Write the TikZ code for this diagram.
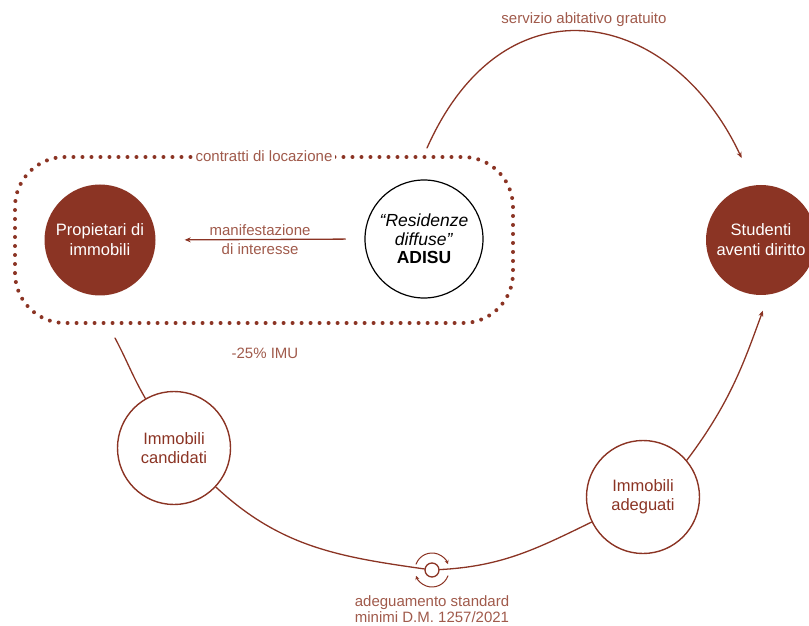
\documentclass[tikz,border=0pt]{standalone}
\usepackage{fontspec}
\setmainfont{Liberation Sans}
\usetikzlibrary{arrows.meta}
\definecolor{rosso}{RGB}{139,52,36}
\definecolor{rossochiaro}{RGB}{160,90,75}
\begin{document}
\begin{tikzpicture}[x=1pt,y=1pt,line join=round,line cap=round,>={Stealth[length=6pt,width=5pt]},
	pieno/.style={circle,fill=rosso,text=white,minimum size=111pt,inner sep=0pt,align=center,font=\fontsize{16.5}{20}\selectfont},
	vuoto/.style={circle,draw=rosso,line width=1.4pt,text=rosso,minimum size=113pt,inner sep=0pt,align=center,font=\fontsize{16.5}{19}\selectfont},
	etich/.style={text=rossochiaro,font=\fontsize{15}{17.5}\selectfont},
	freccia/.style={draw=rosso,line width=1.3pt},
	puntini/.style={draw=rosso,line width=4pt,dash pattern=on 0pt off 9pt,rounded corners=50pt}]
	\useasboundingbox (0,0) rectangle (809,625);
	\path (427,477) coordinate (s1)
		(115,287) coordinate (c1);
	\node[pieno] (P) at (100,385) {Propietari di\\immobili};
	\node[pieno,minimum size=110pt] (S) at (761,385) {Studenti\\aventi diritto};
	\node[circle,draw,line width=1.2pt,minimum size=118pt,inner sep=0pt,align=center,font=\fontsize{17.5}{18.5}\selectfont] (A) at (424,386) {\textit{“Residenze}\\\textit{diffuse”}\\\textbf{ADISU}};
	\node[vuoto] (C) at (174,177) {Immobili\\candidati};
	\node[vuoto] (D) at (643,128) {Immobili\\adeguati};
	\node[circle,draw=rosso,line width=1.3pt,minimum size=14pt,inner sep=0pt] (H) at (432,55) {};
	% riquadro tratteggiato
	\draw[puntini] (15,302) rectangle (513,468);
	\node[etich,fill=white,inner sep=3pt] (loc) at (264,469) {contratti di locazione};
	\draw[freccia,->,shorten <=19pt,shorten >=29pt] (A.west) -- (P.east)
		node[midway,above,etich]{manifestazione} node[midway,below,etich]{di interesse};
	\draw[freccia,->,shorten >=30pt] (s1) to[out=66,in=115,looseness=1.5] (S.97);
	\node[etich] (serv) at (584,605) {servizio abitativo gratuito};
	\node[etich] (imu) at (265,272) {-25\% IMU};
	\draw[freccia] (c1) to[out=-62,in=120] (C);
	\draw[freccia] (C) to[out=-43,in=172] (H);
	\draw[freccia] (H) to[out=3,in=206] (D);
	\draw[freccia,->,shorten >=17pt] (D.40) to[out=53,in=-110] (S.-82);
	\foreach \a in {160,-20}{\draw[freccia,line width=1pt,-{Stealth[length=4pt,width=4pt]}] (H) ++(\a:17) arc[start angle=\a,delta angle=-140,radius=17];}
	\node[etich,align=center,font=\fontsize{15}{16.5}\selectfont] (norma) at (432,16) {adeguamento standard\\minimi D.M. 1257/2021};
\end{tikzpicture}
\end{document}
